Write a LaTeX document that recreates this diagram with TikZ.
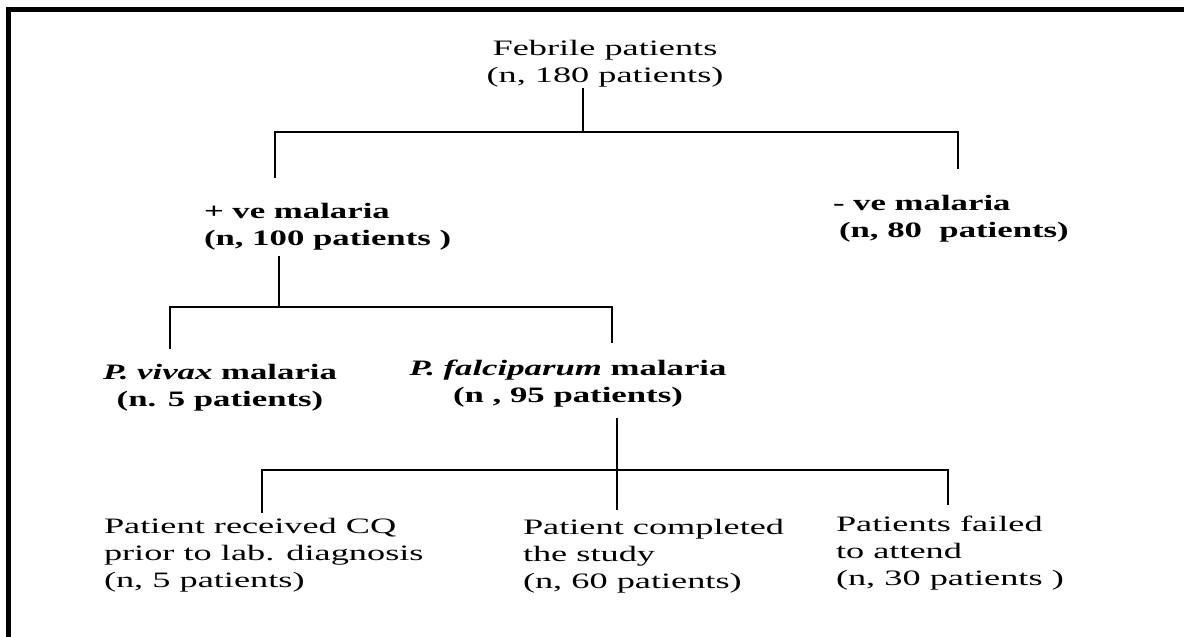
\documentclass[tikz,border=0pt]{standalone}
\usepackage{fontspec}
\setmainfont{Liberation Serif}[FakeStretch=1.65,
  BoldFeatures={FakeStretch=1.58},BoldItalicFeatures={FakeStretch=1.58}]

\begin{document}
\begin{tikzpicture}[x=1pt,y=-1pt,line width=2pt,
  lbl/.style={inner sep=0pt,font=\fontsize{22}{26.7}\selectfont},
  bold/.style={lbl,font=\fontsize{22}{26.7}\selectfont\bfseries}]
  \useasboundingbox (0,0) rectangle (1184,637);

  % frame
  \draw[line width=5pt,line join=miter] (8.5,637) -- (8.5,9.5) -- (1184,9.5);

  % base of each node = baseline of its last line
  \node[lbl,align=center,anchor=base] (feb) at (605,82) {Febrile patients\\(n, 180 patients)};

  \node[bold,align=left,anchor=base west] (pos) at (203,245) {+ ve malaria\\(n, 100 patients )};
  \node[bold,align=left,anchor=base west] (neg) at (832,237) {- ve malaria\\\hspace*{6pt}(n, 80\ \ patients)};

  \node[bold,align=center,anchor=base] (viv) at (220,406) {\textit{P. vivax} malaria\\(n. 5 patients)};
  \node[bold,align=center,anchor=base] (fal) at (568,402) {\textit{P. falciparum} malaria\\(n , 95 patients)};

  \node[lbl,align=left,anchor=base west] (cq) at (103,587) {Patient received CQ\\prior to lab. diagnosis\\(n, 5 patients)};
  \node[lbl,align=left,anchor=base west] (done) at (522,588) {Patient completed\\the study\\(n, 60 patients)};
  \node[lbl,align=left,anchor=base west] (fail) at (835,585) {Patients failed\\to attend\\(n, 30 patients )};

  % first split
  \coordinate (j0) at (583,132);
  \coordinate (j0l) at (275,132);
  \coordinate (j0r) at (958,132);
  \coordinate (pos-in) at (275,178);
  \coordinate (neg-in) at (958,169);
  \draw (feb.south -| j0) -- (j0);
  \draw (pos-in) -- (j0l) -- (j0r) -- (neg-in);

  % second split
  \coordinate (j1) at (279,307);
  \coordinate (j1l) at (170,307);
  \coordinate (j1r) at (612,307);
  \coordinate (viv-in) at (170,349);
  \coordinate (fal-in) at (612,343);
  \draw ([yshift=-5pt]pos.south -| j1) -- (j1);
  \draw (viv-in) -- (j1l) -- (j1r) -- (fal-in);

  % third split
  \coordinate (j2) at (617,470);
  \coordinate (j2l) at (262,470);
  \coordinate (j2r) at (948,470);
  \coordinate (cq-in) at (262,513);
  \coordinate (done-in) at (617,510);
  \coordinate (fail-in) at (948,505);
  \draw ([yshift=-10pt]fal.south -| j2) -- (j2);
  \draw (cq-in) -- (j2l) -- (j2r) -- (fail-in);
  \draw (j2) -- (done-in);
\end{tikzpicture}
\end{document}
